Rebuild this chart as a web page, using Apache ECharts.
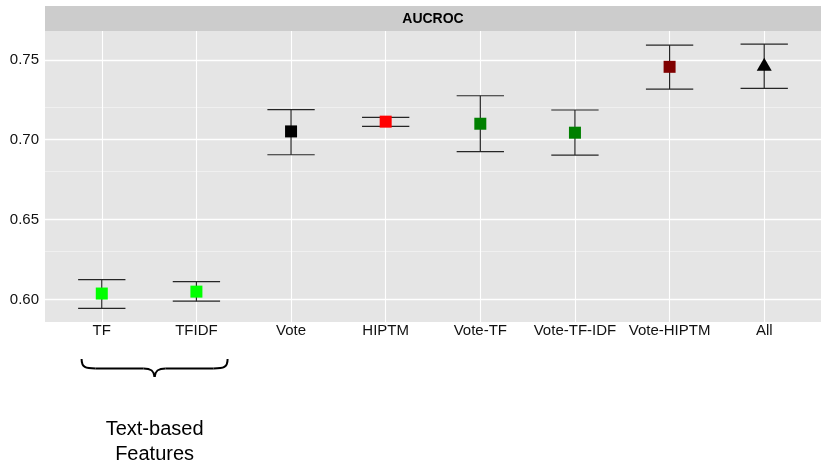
<!DOCTYPE html>
<html>
<head>
<meta charset="utf-8">
<title>AUCROC</title>
<script src="https://cdn.jsdelivr.net/npm/echarts@6/dist/echarts.min.js"></script>
<style>
  html, body { margin: 0; padding: 0; background: #ffffff; }
  #chart { width: 821px; height: 462px; }
</style>
</head>
<body>
<div id="chart"></div>
<script>
// Feature sets compared
const categories = ['TF', 'TFIDF', 'Vote', 'HIPTM', 'Vote-TF', 'Vote-TF-IDF', 'Vote-HIPTM', 'All'];
// Mean AUC-ROC and the lower / upper ends of its interval
const meanAUC  = [0.6038, 0.6050, 0.7052, 0.7113, 0.7100, 0.7044, 0.7456, 0.7472];
const lowerAUC = [0.5945, 0.5990, 0.6906, 0.7083, 0.6925, 0.6904, 0.7317, 0.7321];
const upperAUC = [0.6125, 0.6113, 0.7188, 0.7140, 0.7275, 0.7186, 0.7592, 0.7598];
// y tick labels (major) and minor grid values
const yTicks = [0.60, 0.65, 0.70, 0.75];
const yMinor = [0.625, 0.675, 0.725];

// marker styling per feature set
const pointColors = ['#00FF00', '#00FF00', '#000000', '#FF0000', '#008000', '#008000', '#800000', '#000000'];
const pointShapes = ['rect', 'rect', 'rect', 'rect', 'rect', 'rect', 'rect', 'triangle'];

const FONT = '"Liberation Sans", Arial, Helvetica, sans-serif';
const chart = echarts.init(document.getElementById('chart'), null, { renderer: 'canvas' });

const GRID = { left: 45, right: 0, top: 31, bottom: 140 };

const gridLines = [];
yTicks.forEach(v => gridLines.push({ yAxis: v, lineStyle: { color: '#ffffff', width: 1.3, type: 'solid' } }));
yMinor.forEach(v => gridLines.push({ yAxis: v, lineStyle: { color: '#f2f2f2', width: 0.8, type: 'solid' } }));
categories.forEach((c, i) => gridLines.push({ xAxis: i, lineStyle: { color: '#ffffff', width: 1.1, type: 'solid' } }));

const option = {
  animation: false,
  backgroundColor: '#ffffff',
  grid: Object.assign({ show: true, backgroundColor: '#e5e5e5', borderWidth: 0, containLabel: false }, GRID),
  xAxis: {
    type: 'value',
    min: -0.6,
    max: categories.length - 1 + 0.6,
    axisLine: { show: false },
    axisTick: { show: false },
    splitLine: { show: false },
    axisLabel: {
      customValues: categories.map((c, i) => i),
      formatter: v => categories[Math.round(v)] || '',
      fontFamily: FONT,
      fontSize: 15,
      color: '#111111',
      margin: 1
    }
  },
  yAxis: {
    type: 'value',
    min: 0.586,
    max: 0.768,
    axisLine: { show: false },
    splitLine: { show: false },
    axisTick: {
      show: true,
      customValues: yTicks,
      length: 3,
      lineStyle: { color: '#888888', width: 1 }
    },
    axisLabel: {
      customValues: yTicks,
      formatter: v => v.toFixed(2),
      fontFamily: FONT,
      fontSize: 15,
      color: '#111111',
      margin: 6
    }
  },
  series: [
    {
      // error bars
      type: 'custom',
      z: 3,
      data: categories.map((c, i) => [i, lowerAUC[i], upperAUC[i]]),
      renderItem: (params, api) => {
        const x = api.value(0);
        const lo = api.coord([x, api.value(1)]);
        const hi = api.coord([x, api.value(2)]);
        const half = api.size([0.25, 0])[0];
        const style = { stroke: '#262626', lineWidth: 1.2 };
        return {
          type: 'group',
          children: [
            { type: 'line', shape: { x1: lo[0], y1: lo[1], x2: hi[0], y2: hi[1] }, style },
            { type: 'line', shape: { x1: hi[0] - half, y1: hi[1], x2: hi[0] + half, y2: hi[1] }, style },
            { type: 'line', shape: { x1: lo[0] - half, y1: lo[1], x2: lo[0] + half, y2: lo[1] }, style }
          ]
        };
      },
      markLine: {
        z: 1,
        silent: true,
        symbol: 'none',
        label: { show: false },
        data: gridLines
      }
    },
    {
      // mean markers
      type: 'scatter',
      z: 4,
      data: categories.map((c, i) => ({
        value: [i, meanAUC[i]],
        symbol: pointShapes[i],
        symbolSize: pointShapes[i] === 'triangle' ? [15, 13] : 12,
        itemStyle: { color: pointColors[i], opacity: 1 }
      }))
    }
  ]
};

chart.setOption(option);

// facet strip and the brace grouping the two text-based features
const panelLeft = GRID.left;
const panelRight = 821 - GRID.right;
const tfX = chart.convertToPixel({ xAxisIndex: 0 }, 0);
const tfidfX = chart.convertToPixel({ xAxisIndex: 0 }, 1);
const braceMid = (tfX + tfidfX) / 2 + 5.5;
const braceHalf = 73;
const bx0 = braceMid - braceHalf, bx1 = braceMid + braceHalf;
const bTop = 359, bBody = 368.5, bTip = 377;
const braceStyle = { stroke: '#000000', lineWidth: 2, fill: null };

function curve(x1, y1, c1x, c1y, c2x, c2y, x2, y2) {
  return {
    type: 'bezierCurve',
    shape: { x1: x1, y1: y1, cpx1: c1x, cpy1: c1y, cpx2: c2x, cpy2: c2y, x2: x2, y2: y2 },
    style: braceStyle,
    z: 10
  };
}
function seg(x1, y1, x2, y2) {
  return { type: 'line', shape: { x1: x1, y1: y1, x2: x2, y2: y2 }, style: braceStyle, z: 10 };
}

chart.setOption({
  graphic: [
    {
      type: 'rect',
      shape: { x: panelLeft, y: 6, width: panelRight - panelLeft, height: 25 },
      style: { fill: '#cccccc' },
      z: 10
    },
    {
      type: 'text',
      x: (panelLeft + panelRight) / 2,
      y: 19,
      style: {
        text: 'AUCROC',
        font: 'bold 14px ' + FONT,
        fill: '#000000',
        align: 'center',
        verticalAlign: 'middle'
      },
      z: 11
    },
    curve(bx0, bTop, bx0, bBody - 1, bx0 + 4, bBody, bx0 + 14, bBody),
    seg(bx0 + 14, bBody, braceMid - 11, bBody),
    curve(braceMid - 11, bBody, braceMid - 4, bBody, braceMid - 0.5, bBody + 2, braceMid, bTip),
    curve(braceMid, bTip, braceMid + 0.5, bBody + 2, braceMid + 4, bBody, braceMid + 11, bBody),
    seg(braceMid + 11, bBody, bx1 - 14, bBody),
    curve(bx1 - 14, bBody, bx1 - 4, bBody, bx1, bBody - 1, bx1, bTop),
    {
      type: 'text',
      x: braceMid,
      y: 441.5,
      style: {
        text: 'Text-based\nFeatures',
        font: '20px ' + FONT,
        lineHeight: 25,
        fill: '#000000',
        align: 'center',
        verticalAlign: 'middle'
      },
      z: 10
    }
  ]
});
</script>
</body>
</html>
